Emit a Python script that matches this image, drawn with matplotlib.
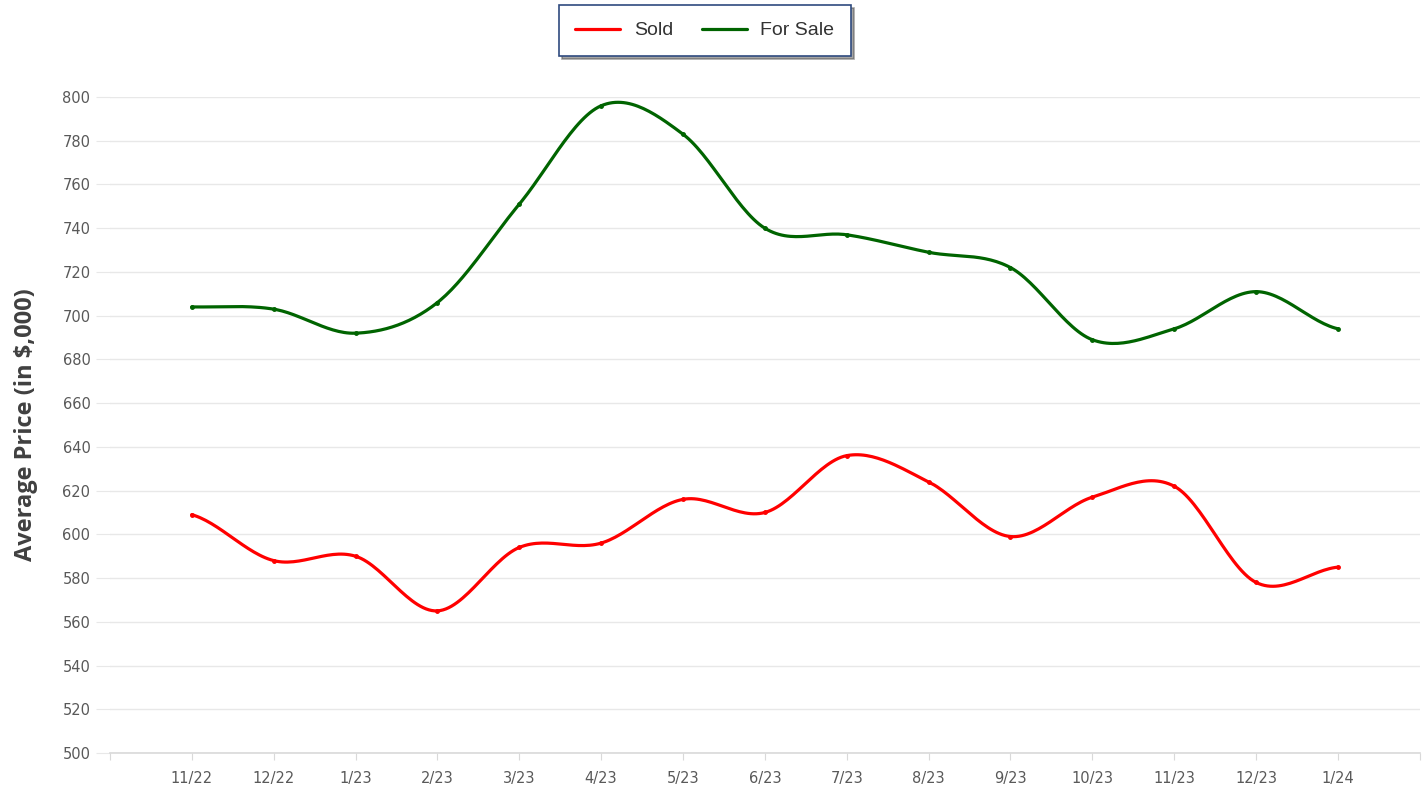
import numpy as np
import matplotlib
matplotlib.use("Agg")
import matplotlib.pyplot as plt

# monthly average prices, in $1,000
months = ["11/22", "12/22", "1/23", "2/23", "3/23", "4/23", "5/23", "6/23",
          "7/23", "8/23", "9/23", "10/23", "11/23", "12/23", "1/24"]
sold = [609, 588, 590, 565, 594, 596, 616, 610, 636, 624, 599, 617, 622, 578, 585]
for_sale = [704, 703, 692, 706, 751, 796, 783, 740, 737, 729, 722, 689, 694, 711, 694]


def smooth(x, y, n=30):
    # Catmull-Rom spline through the points, like the "smooth" line style
    x = np.asarray(x, float)
    y = np.asarray(y, float)
    px = np.concatenate([[x[0]], x, [x[-1]]])
    py = np.concatenate([[y[0]], y, [y[-1]]])
    xs, ys = [], []
    t = np.linspace(0, 1, n)
    for i in range(1, len(px) - 2):
        p0, p1, p2, p3 = py[i - 1], py[i], py[i + 1], py[i + 2]
        m1 = (p2 - p0) / 2
        m2 = (p3 - p1) / 2
        h00 = 2 * t**3 - 3 * t**2 + 1
        h10 = t**3 - 2 * t**2 + t
        h01 = -2 * t**3 + 3 * t**2
        h11 = t**3 - t**2
        ys.append(h00 * p1 + h10 * m1 + h01 * p2 + h11 * m2)
        xs.append(px[i] + t * (px[i + 1] - px[i]))
    return np.concatenate(xs), np.concatenate(ys)


plt.rcParams["font.family"] = ["Liberation Sans Narrow", "DejaVu Sans"]

fig = plt.figure(figsize=(14.27, 7.87), dpi=100)
ax = fig.add_axes([0.077, 0.0432, 0.918, 0.8335])

x = np.arange(len(months))
for vals, color, label in [(sold, "#ff0000", "Sold"), (for_sale, "#006400", "For Sale")]:
    sx, sy = smooth(x, vals)
    ax.plot(sx, sy, color=color, lw=2.3, label=label, solid_capstyle="round")
    ax.plot(x, vals, "o", color=color, ms=2.5, zorder=3)

ax.set_xlim(-1, len(months))
ax.set_ylim(500, 800)
ax.set_yticks(np.arange(500, 801, 20))
ax.set_xticks(np.arange(-1, len(months) + 1))
ax.set_xticklabels([""] + months + [""])

ax.grid(axis="y", color="#e8e8e8", lw=1)
ax.set_axisbelow(True)
for side in ["top", "right", "left"]:
    ax.spines[side].set_visible(False)
ax.spines["bottom"].set_color("#d9d9d9")
ax.spines["bottom"].set_linewidth(1.2)
ax.tick_params(axis="y", length=10, color="#e8e8e8", labelcolor="#595959", labelsize=10.5, pad=4)
ax.tick_params(axis="x", length=5, color="#d9d9d9", labelcolor="#595959", labelsize=10.5, pad=8)

ax.set_ylabel("Average Price (in $,000)", family=["Open Sans", "DejaVu Sans"],
              fontsize=17, fontweight="bold", color="#404040")
ax.yaxis.set_label_coords(-0.055, 0.5)

leg = fig.legend(loc="center", bbox_to_anchor=(0.494, 0.961), ncol=2, frameon=True,
                 fancybox=False, shadow=True, handlelength=2.3, handletextpad=0.7,
                 columnspacing=1.5, borderpad=0.85,
                 prop={"family": ["Liberation Sans", "DejaVu Sans"], "size": 14})
leg.get_frame().set_edgecolor("#2f4a7f")
leg.get_frame().set_linewidth(1.2)
for t in leg.get_texts():
    t.set_color("#333333")

fig.savefig("out.png", dpi=100)
